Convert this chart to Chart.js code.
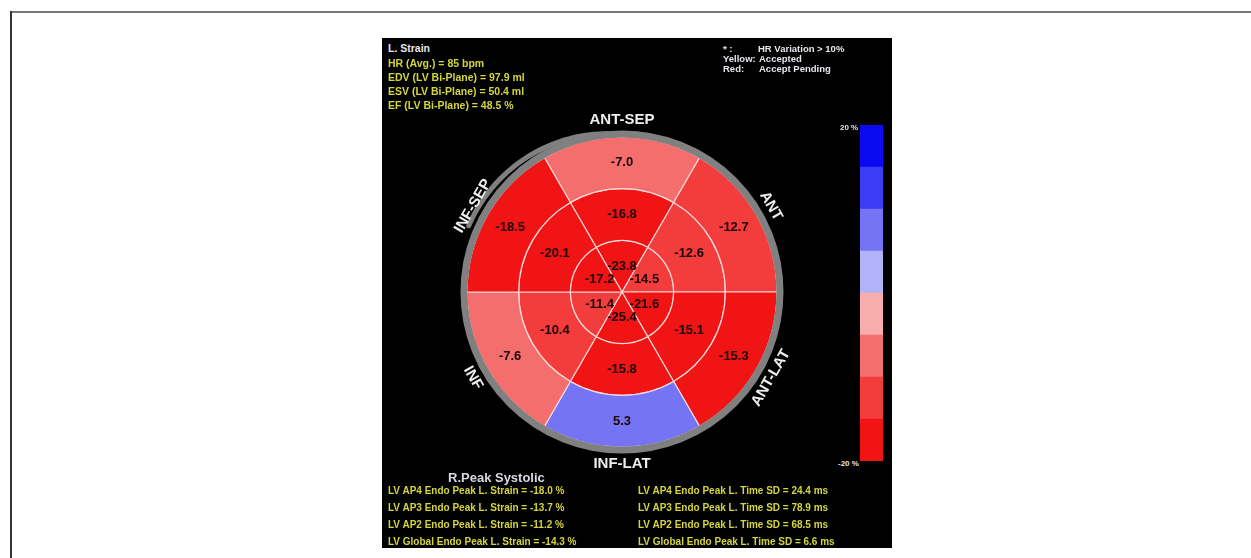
<!DOCTYPE html>
<html>
<head>
<meta charset="utf-8">
<script src="https://cdn.jsdelivr.net/npm/chart.js@4.4.0/dist/chart.umd.min.js"></script>
<style>
  html, body { margin: 0; padding: 0; background: #fff; }
  body { width: 1251px; height: 558px; position: relative; overflow: hidden;
         font-family: "Liberation Sans", Arial, sans-serif; font-weight: bold; }
  .frame-top { position: absolute; left: 11px; top: 11px; width: 1240px; height: 2px; background: #7a7a7a; }
  .frame-left { position: absolute; left: 10px; top: 11px; width: 2px; height: 547px; background: #333; }
  #panel { position: absolute; left: 382px; top: 38px; width: 510px; height: 510px; background: #000; }
  .t { position: absolute; white-space: pre; line-height: 1; }
  .y { color: #d4d43c; }
  .w { color: #e6e6ee; }
  #bullseye { position: absolute; left: 422px; top: 92px; }
  #scale { position: absolute; left: 860px; top: 125px; }
</style>
</head>
<body>
<div class="frame-top"></div>
<div class="frame-left"></div>
<div id="panel"></div>
<canvas id="bullseye" width="400" height="400"></canvas>
<canvas id="scale" width="23" height="336"></canvas>

<div class="t w" style="left:388px;top:43px;font-size:10.5px;">L. Strain</div>
<div class="t y" style="left:388px;top:58px;font-size:10.5px;">HR (Avg.) = 85 bpm</div>
<div class="t y" style="left:388px;top:72px;font-size:10.5px;">EDV (LV Bi-Plane) = 97.9 ml</div>
<div class="t y" style="left:388px;top:86px;font-size:10.5px;">ESV (LV Bi-Plane) = 50.4 ml</div>
<div class="t y" style="left:388px;top:100px;font-size:10.5px;">EF (LV Bi-Plane) = 48.5 %</div>

<div class="t w" style="left:723px;top:44px;font-size:9.5px;">* :</div>
<div class="t w" style="left:758px;top:44px;font-size:9.5px;">HR Variation &gt; 10%</div>
<div class="t w" style="left:723px;top:54px;font-size:9.5px;">Yellow:</div>
<div class="t w" style="left:759px;top:54px;font-size:9.5px;">Accepted</div>
<div class="t w" style="left:723px;top:64px;font-size:9.5px;">Red:</div>
<div class="t w" style="left:759px;top:64px;font-size:9.5px;">Accept Pending</div>

<div class="t w" style="left:840px;top:124px;font-size:8px;">20 %</div>
<div class="t w" style="left:838px;top:460px;font-size:8px;">-20 %</div>

<div class="t w" style="left:448px;top:471px;font-size:13px;color:#d8d8e4;">R.Peak Systolic</div>
<div class="t y" style="left:388px;top:486px;font-size:10px;">LV AP4 Endo Peak L. Strain = -18.0 %</div>
<div class="t y" style="left:388px;top:503px;font-size:10px;">LV AP3 Endo Peak L. Strain = -13.7 %</div>
<div class="t y" style="left:388px;top:520px;font-size:10px;">LV AP2 Endo Peak L. Strain = -11.2 %</div>
<div class="t y" style="left:388px;top:537px;font-size:10px;">LV Global Endo Peak L. Strain = -14.3 %</div>
<div class="t y" style="left:638px;top:486px;font-size:10px;">LV AP4 Endo Peak L. Time SD = 24.4 ms</div>
<div class="t y" style="left:638px;top:503px;font-size:10px;">LV AP3 Endo Peak L. Time SD = 78.9 ms</div>
<div class="t y" style="left:638px;top:520px;font-size:10px;">LV AP2 Endo Peak L. Time SD = 68.5 ms</div>
<div class="t y" style="left:638px;top:537px;font-size:10px;">LV Global Endo Peak L. Time SD = 6.6 ms</div>

<script>
// segments, clockwise from the top
const segments = ['ANT-SEP', 'ANT', 'ANT-LAT', 'INF-LAT', 'INF', 'INF-SEP'];
const basalStrain = [-7.0, -12.7, -15.3, 5.3, -7.6, -18.5];
const midStrain = [-16.8, -12.6, -15.1, -15.8, -10.4, -20.1];
const apicalStrain = [-23.8, -14.5, -21.6, -25.4, -11.4, -17.2];

// colour scale, -20 % (red) to 20 % (blue)
const scaleEdges = [-20, -15, -10, -5, 0, 5, 10, 15, 20];
const scaleColors = ['#f01414', '#f33c3c', '#f56e6e', '#f8acac', '#b2b2f8', '#7474f5', '#3c3cf5', '#0a0af2'];

function strainColor(v) {
  let i = Math.floor((v - scaleEdges[0]) / 5);
  i = Math.max(0, Math.min(scaleColors.length - 1, i));
  return scaleColors[i];
}

function ring(values) {
  return {
    data: values.map(() => 1),
    strain: values,
    backgroundColor: values.map(strainColor),
    borderColor: 'rgba(255, 228, 228, 0.9)',
    borderWidth: 1.2
  };
}

const bullseyeDecor = {
  id: 'bullseyeDecor',
  afterDatasetsDraw(chart) {
    const ctx = chart.ctx;
    const outer = chart.getDatasetMeta(0).data;
    const cx = outer[0].x, cy = outer[0].y, r = outer[0].outerRadius;
    ctx.save();

    // grey rim
    ctx.strokeStyle = '#808080';
    ctx.lineWidth = 7;
    ctx.beginPath();
    ctx.arc(cx, cy, r + 3, 0, Math.PI * 2);
    ctx.stroke();
    // extra rim arc on the septal side, closing into the rim at the top
    ctx.lineWidth = 5;
    ctx.lineCap = 'round';
    ctx.beginPath();
    const a0 = Math.PI * 1.13, a1 = Math.PI * 1.47;
    for (let k = 0; k <= 40; k++) {
      const a = a0 + (a1 - a0) * k / 40;
      const rr = r + 12 - 8 * Math.pow(k / 40, 2);
      const px = cx + Math.cos(a) * rr, py = cy + Math.sin(a) * rr;
      if (k === 0) ctx.moveTo(px, py); else ctx.lineTo(px, py);
    }
    ctx.stroke();

    // segment values
    ctx.fillStyle = '#1c0606';
    ctx.font = 'bold 13px "Liberation Sans", Arial, sans-serif';
    ctx.textAlign = 'center';
    ctx.textBaseline = 'middle';
    chart.data.datasets.forEach((ds, di) => {
      chart.getDatasetMeta(di).data.forEach((arc, i) => {
        const p = arc.tooltipPosition();
        ctx.fillText(ds.strain[i].toFixed(1), p.x, p.y);
      });
    });

    // segment names round the rim
    ctx.fillStyle = '#eeeeee';
    ctx.font = 'bold 15px "Liberation Sans", Arial, sans-serif';
    outer.forEach((arc, i) => {
      const a = (arc.startAngle + arc.endAngle) / 2;
      let rot = a + Math.PI / 2;
      while (rot > Math.PI / 2) rot -= Math.PI;
      while (rot <= -Math.PI / 2) rot += Math.PI;
      ctx.save();
      ctx.translate(cx + Math.cos(a) * (r + 17), cy + Math.sin(a) * (r + 17));
      ctx.rotate(rot);
      ctx.fillText(segments[i], 0, 0);
      ctx.restore();
    });
    ctx.restore();
  }
};

new Chart(document.getElementById('bullseye'), {
  type: 'doughnut',
  data: {
    labels: segments,
    datasets: [ring(basalStrain), ring(midStrain), ring(apicalStrain)]
  },
  options: {
    responsive: false,
    animation: false,
    events: [],
    radius: 155,
    cutout: 0,
    rotation: -30,
    layout: { padding: 0 },
    plugins: { legend: { display: false }, tooltip: { enabled: false } }
  },
  plugins: [bullseyeDecor]
});

new Chart(document.getElementById('scale'), {
  type: 'bar',
  data: {
    labels: [''],
    datasets: scaleColors.map((c, i) => ({
      data: [[scaleEdges[i], scaleEdges[i + 1]]],
      backgroundColor: c,
      grouped: false,
      barPercentage: 1,
      categoryPercentage: 1,
      borderWidth: 0
    }))
  },
  options: {
    responsive: false,
    animation: false,
    events: [],
    layout: { padding: 0 },
    plugins: { legend: { display: false }, tooltip: { enabled: false } },
    scales: {
      x: { display: false },
      y: { display: false, min: -20, max: 20 }
    }
  }
});
</script>
</body>
</html>
